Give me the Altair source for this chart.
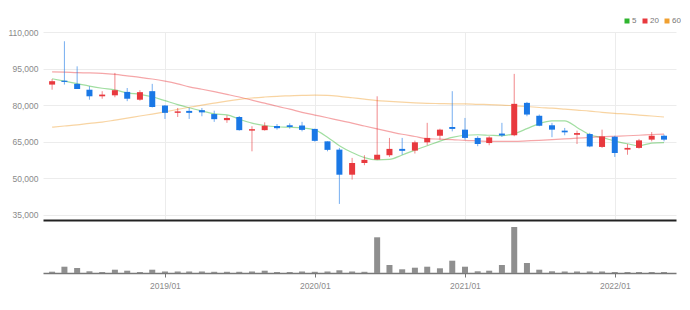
import altair as alt
import pandas as pd

# ---- data (prices in KRW, monthly candles) ----
months = pd.date_range("2018-04-01", periods=50, freq="MS").strftime("%Y-%m-%d").tolist()

open_k = [88.4, 90.0, 88.7, 86.3, 83.6, 84.0, 85.4, 82.2, 85.7, 79.8,
          76.8, 77.6, 77.9, 76.3, 73.8, 75.1, 69.5, 69.7, 71.4, 71.7,
          71.6, 70.2, 65.1, 61.7, 51.4, 56.2, 57.6, 59.4, 62.0, 61.3,
          64.7, 67.4, 71.0, 69.9, 66.5, 64.4, 68.3, 67.6, 80.9, 75.6,
          71.7, 69.5, 67.8, 68.1, 62.8, 67.0, 61.7, 62.4, 65.8, 67.4]
high_k = [90.7, 106.2, 95.9, 87.7, 85.7, 93.2, 87.0, 86.1, 88.7, 80.0,
          78.8, 78.9, 78.8, 77.7, 75.8, 75.5, 71.3, 72.9, 72.2, 72.5,
          73.1, 70.3, 65.1, 62.4, 58.3, 59.4, 83.6, 66.5, 66.5, 65.4,
          72.7, 70.3, 85.7, 74.7, 67.2, 67.2, 72.7, 92.8, 81.3, 76.1,
          72.7, 70.6, 69.5, 68.6, 69.9, 67.4, 64.0, 66.1, 68.9, 67.9]
low_k = [86.3, 88.4, 86.6, 82.2, 82.6, 83.2, 81.6, 81.8, 79.0, 74.3,
         75.1, 74.3, 75.4, 73.1, 72.7, 69.5, 61.0, 69.5, 69.9, 70.3,
         69.2, 65.0, 61.0, 39.4, 49.4, 55.3, 57.4, 58.7, 59.6, 60.1,
         63.5, 65.8, 69.2, 65.8, 63.1, 63.5, 66.9, 67.2, 75.4, 71.3,
         66.8, 67.6, 64.0, 62.7, 62.4, 58.7, 59.6, 62.1, 65.1, 65.1]
close_k = [89.8, 89.5, 86.6, 83.6, 84.3, 86.1, 82.6, 85.3, 79.2, 76.8,
           77.4, 76.8, 77.0, 74.2, 74.7, 69.7, 70.1, 71.5, 70.5, 71.0,
           69.8, 65.3, 61.6, 51.4, 56.2, 57.5, 59.6, 62.0, 61.2, 64.7,
           66.5, 69.9, 70.2, 66.5, 64.0, 66.7, 67.5, 80.5, 76.1, 71.5,
           69.9, 68.8, 68.5, 63.0, 67.1, 60.3, 62.4, 65.5, 67.4, 65.8]
volume = [1.3, 6.3, 5.0, 1.7, 1.0, 3.3, 2.3, 1.0, 3.3, 1.5,
          1.5, 1.5, 1.5, 1.2, 1.2, 1.2, 1.5, 2.3, 1.0, 1.0,
          1.5, 1.2, 1.5, 2.7, 1.5, 1.2, 35.7, 8.0, 3.7, 5.3,
          6.3, 4.7, 12.3, 6.3, 1.7, 2.3, 8.0, 46.0, 10.0, 3.3,
          1.7, 1.5, 1.5, 1.5, 1.5, 1.0, 1.0, 1.0, 1.0, 1.0]

ma5_k = [90.8, 89.8, 88.8, 87.8, 86.9, 86.2, 85.0, 84.4, 83.4, 81.8,
         80.2, 78.9, 77.6, 76.4, 76.0, 74.2, 72.6, 71.6, 71.1, 70.9,
         70.6, 69.8, 66.8, 63.3, 60.5, 58.4, 57.5, 57.7, 59.5, 61.5,
         63.3, 65.2, 66.7, 67.6, 67.8, 67.6, 67.4, 68.3, 70.3, 72.4,
         73.5, 73.5, 70.8, 67.8, 66.7, 65.2, 64.1, 63.3, 64.4, 64.6]
ma20_k = [93.6, 93.5, 93.3, 93.2, 93.0, 92.6, 92.0, 91.4, 90.7, 89.8,
          88.7, 87.5, 86.5, 85.5, 84.4, 83.3, 82.0, 80.8, 79.5, 78.3,
          77.0, 75.9, 74.8, 73.7, 72.6, 71.4, 70.2, 69.1, 68.0, 67.1,
          66.2, 66.0, 65.8, 65.5, 65.3, 65.1, 65.1, 65.1, 65.3, 65.5,
          65.8, 66.1, 66.4, 66.7, 67.0, 67.2, 67.4, 67.6, 67.9, 68.1]
ma60_k = [70.9, 71.4, 71.9, 72.5, 73.0, 73.8, 74.6, 75.5, 76.3, 77.2,
          78.2, 79.1, 80.0, 80.8, 81.6, 82.3, 82.9, 83.3, 83.6, 83.8,
          84.0, 84.1, 84.0, 83.6, 83.0, 82.4, 81.8, 81.5, 81.2, 80.9,
          80.7, 80.6, 80.5, 80.5, 80.3, 80.2, 80.0, 79.7, 79.4, 79.0,
          78.7, 78.3, 77.9, 77.5, 77.0, 76.6, 76.3, 75.9, 75.5, 75.1]

ma_names = ["5", "20", "60"]
ma_colors = ["#2fb52f", "#e8393e", "#f0a030"]
y_ticks = [35000, 50000, 65000, 80000, 95000, 110000]
year_ticks = [2019, 2020, 2021, 2022]

UP = "#e8393e"
DOWN = "#1a78e6"
FONT = "Liberation Sans"

ohlc = pd.DataFrame({
    "date": months,
    "open": [v * 1000 for v in open_k],
    "high": [v * 1000 for v in high_k],
    "low": [v * 1000 for v in low_k],
    "close": [v * 1000 for v in close_k],
    "volume": volume,
})

ma_rows = []
for name, series in zip(ma_names, [ma5_k, ma20_k, ma60_k]):
    for d, v in zip(months, series):
        ma_rows.append({"date": d, "ma": name, "value": v * 1000})
ma_df = pd.DataFrame(ma_rows)

x_domain = [alt.DateTime(year=2018, month=3, date=22, utc=True),
            alt.DateTime(year=2022, month=5, date=18, utc=True)]
x_scale = alt.Scale(type="utc", domain=x_domain)
tick_vals = [alt.DateTime(year=y, month=1, date=1, utc=True) for y in year_ticks]

x_main_axis = alt.Axis(values=tick_vals, labels=False, ticks=False, title=None,
                       grid=True, gridColor="#ececec", domain=True,
                       domainColor="#222222", domainWidth=2)
x_main = alt.X("date:T", scale=x_scale, axis=x_main_axis)

y_scale = alt.Scale(domain=[32800, 110000], nice=False, zero=False)
y_axis = alt.Axis(values=y_ticks, format=",.0f", grid=True, gridColor="#ececec",
                  domain=False, ticks=False, labelPadding=5, title=None,
                  labelColor="#8a8a8a", labelFontSize=8.5, labelFont=FONT)

candle_color = alt.condition("datum.close >= datum.open", alt.value(UP), alt.value(DOWN))

base = alt.Chart(ohlc)

wicks = base.mark_rule(strokeWidth=1, opacity=0.6).encode(
    x=x_main,
    y=alt.Y("low:Q", scale=y_scale, axis=y_axis),
    y2="high:Q",
    color=candle_color,
)

bodies = base.mark_bar(width=6).encode(
    x=x_main,
    y=alt.Y("open:Q", scale=y_scale, axis=y_axis),
    y2="close:Q",
    color=candle_color,
)

lines = alt.Chart(ma_df).mark_line(strokeWidth=1.2, strokeOpacity=0.45,
                                   interpolate="monotone").encode(
    x=x_main,
    y=alt.Y("value:Q", scale=y_scale, axis=y_axis),
    color=alt.Color("ma:N", scale=alt.Scale(domain=ma_names, range=ma_colors),
                    sort=ma_names,
                    legend=alt.Legend(orient="none", legendX=580, legendY=-15,
                                      direction="horizontal", title=None,
                                      padding=0,
                                      symbolType="square", symbolSize=4,
                                      symbolStrokeWidth=3, symbolOpacity=1,
                                      labelFontSize=8, labelFont=FONT,
                                      labelColor="#777777", labelOffset=1,
                                      columnPadding=1)),
)

main = alt.layer(lines, wicks, bodies).properties(width=633, height=188)

x_vol_axis = alt.Axis(values=tick_vals,
                      labelExpr="utcFormat(datum.value, '%Y/%m')",
                      title=None, grid=False, ticks=True, tickSize=4,
                      tickColor="#777777", domain=True, domainColor="#777777",
                      domainWidth=1.5, labelColor="#8a8a8a", labelFontSize=8.5,
                      labelFont=FONT, labelPadding=4)

vol = alt.Chart(ohlc).mark_bar(width=6, color="#8f8f8f").encode(
    x=alt.X("date:T", scale=x_scale, axis=x_vol_axis),
    y=alt.Y("volume:Q", scale=alt.Scale(domain=[0, 51], nice=False), axis=None),
).properties(width=633, height=51)

chart = alt.vconcat(main, vol, spacing=2).properties(
    padding={"left": 7, "top": 17, "right": 0, "bottom": 10},
    background="white",
).configure_view(stroke=None)

chart.save("out.html", embed_options={"renderer": "svg", "actions": False})
